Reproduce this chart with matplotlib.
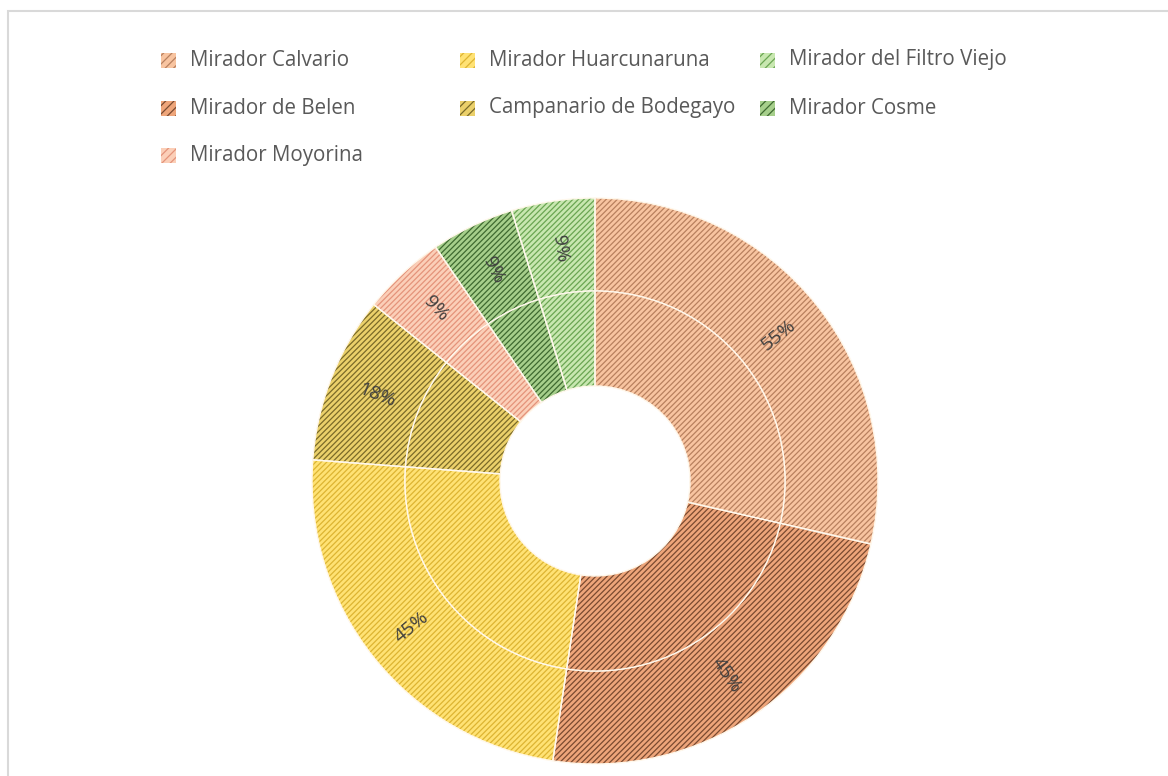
import matplotlib.pyplot as plt
from matplotlib.patches import Rectangle
import numpy as np

plt.rcParams['font.family'] = ['Open Sans', 'DejaVu Sans']
plt.rcParams['hatch.linewidth'] = 0.9

# viewpoints and how often each was picked
sites = ["Mirador Calvario", "Mirador de Belen", "Mirador Huarcunaruna",
         "Campanario de Bodegayo", "Mirador Moyorina", "Mirador Cosme",
         "Mirador del Filtro Viejo"]
visits = [6, 5, 5, 2, 1, 1, 1]
pct_labels = ["55%", "45%", "45%", "18%", "9%", "9%", "9%"]

# background / stripe colour of each patterned slice
face_colors = ["#F8C4A0", "#EEA57A", "#FFE274", "#EBD06A",
               "#FBCFB8", "#A6CF8B", "#C8E7B0"]
hatch_colors = ["#B8805E", "#7A4A30", "#DDB432", "#7A6A28",
                "#E4937A", "#3E6A30", "#6AA552"]

# legend is filled row by row
legend_rows = [["Mirador Calvario", "Mirador Huarcunaruna", "Mirador del Filtro Viejo"],
               ["Mirador de Belen", "Campanario de Bodegayo", "Mirador Cosme"],
               ["Mirador Moyorina"]]

W, H = 1168, 776
fig = plt.figure(figsize=(W / 100, H / 100), dpi=100)
ax = fig.add_axes([0, 0, 1, 1])

cx, cy = 595, H - 481
r_out, r_mid, r_in = 283, 190, 95


def ring(radius, width):
    wedges, _ = ax.pie(visits, radius=radius, center=(cx, cy), startangle=90,
                       counterclock=False, colors=face_colors, frame=True,
                       wedgeprops=dict(width=width, linewidth=0))
    for w, hc in zip(wedges, hatch_colors):
        w.set_hatch('//////')
        w.set_edgecolor(hc)
        w.set_linewidth(0)
    # thin light separators on top of the stripes
    ax.pie(visits, radius=radius, center=(cx, cy), startangle=90,
           counterclock=False, colors=face_colors, frame=True,
           wedgeprops=dict(width=width, fill=False, edgecolor='#FFF8EC', linewidth=1.0))


ring(r_out, r_out - r_mid)
ring(r_mid, r_mid - r_in)

# percentage labels on the outer ring, rotated along the radius
cum = np.cumsum(visits)
mids = (cum - np.array(visits) / 2) / cum[-1] * 360
r_lab = (r_out + r_mid) / 2 - 2
for m, lab in zip(mids, pct_labels):
    theta = np.deg2rad(90 - m)
    rot = (90 - m) % 360
    if 90 < rot <= 270:
        rot -= 180
    ax.text(cx + r_lab * np.cos(theta), cy + r_lab * np.sin(theta), lab,
            rotation=rot, rotation_mode='anchor', ha='center', va='center',
            fontsize=14, color='#404040')

# legend
col_x = [161, 460, 760]
row_y = [60, 108, 155]
for row, names in zip(row_y, legend_rows):
    for x, name in zip(col_x, names):
        i = sites.index(name)
        ax.add_patch(Rectangle((x, H - row - 7.5), 15, 15, facecolor=face_colors[i],
                               edgecolor=hatch_colors[i], hatch='////', linewidth=0))
        ax.text(x + 29, H - row, name, va='center', ha='left',
                fontsize=14.8, color='#595959')

# chart area border
ax.add_patch(Rectangle((8, -20), W + 20, H - 11 + 20, fill=False,
                       edgecolor='#D9D9D9', linewidth=1.5))

ax.set_xlim(0, W)
ax.set_ylim(0, H)
ax.set_aspect('auto')
ax.axis('off')

fig.savefig('out.png', dpi=100)
